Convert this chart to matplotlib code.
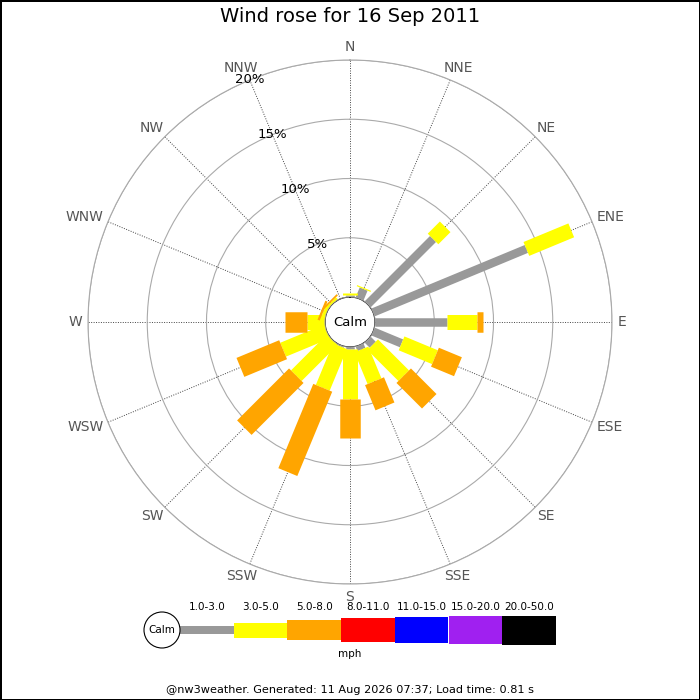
#!/usr/bin/env python3
import numpy as np
import matplotlib
matplotlib.use('Agg')
import matplotlib.pyplot as plt
from matplotlib.patches import Circle
from matplotlib.transforms import Affine2D

# wind rose data, % of time per direction and speed bin
directions = ['N', 'NNE', 'NE', 'ENE', 'E', 'ESE', 'SE', 'SSE',
              'S', 'SSW', 'SW', 'WSW', 'W', 'WNW', 'NW', 'NNW']
speed_bins = ['1.0-3.0', '3.0-5.0', '5.0-8.0', '8.0-11.0',
              '11.0-15.0', '15.0-20.0', '20.0-50.0']
bin_colors = ['#999999', '#ffff00', '#ffa500', '#ff0000',
              '#0000ff', '#a020f0', '#000000']
pct_1_3 = [0.2, 0.9, 7.8, 14.0, 6.1, 2.6, 0.6, 0.4,
           0.15, 0.1, 0.0, 0.0, 0.0, 0.0, 0.0, 0.0]
pct_3_5 = [0.1, 0.1, 1.45, 4.1, 2.5, 3.05, 3.7, 2.9,
           4.2, 3.8, 4.3, 4.0, 1.5, 0.3, 0.2, 0.0]
pct_5_8 = [0.0, 0.0, 0.0, 0.0, 0.5, 2.1, 3.05, 2.3,
           3.3, 7.7, 6.2, 3.9, 1.9, 0.2, 0.15, 0.0]
ring_ticks = [5, 10, 15, 20]
title = 'Wind rose for 16 Sep 2011'
footer = '@nw3weather. Generated: 11 Aug 2026 07:37; Load time: 0.81 s'

bar_px = [8.5, 15, 20.5, 24, 26, 28, 29]   # bar thickness per speed bin (px)
PT = 0.72                                   # px -> points at dpi 100


def main():
    fig = plt.figure(figsize=(7, 7), dpi=100, facecolor='white',
                     edgecolor='black', linewidth=2)

    # rose: centre (350,322), outer ring radius 262px, calm radius 25px
    ax = fig.add_axes([88/700, 116/700, 524/700, 524/700], projection='polar')
    ax.set_theta_zero_location('N')
    ax.set_theta_direction(-1)
    rmax = ring_ticks[-1]
    ax.set_ylim(0, rmax)
    ax.set_rorigin(-rmax * 25 / 237)

    theta = np.radians(np.arange(len(directions)) * 22.5)
    ax.set_xticks(theta)
    ax.set_xticklabels([])
    ax.set_yticks(ring_ticks)
    ax.set_yticklabels([])
    ax.tick_params(length=0)
    ax.xaxis.grid(True, color='#444444', linestyle=(0, (1, 1.5)), linewidth=0.7)
    ax.yaxis.grid(True, color='#aaaaaa', linestyle='-', linewidth=0.8)
    ax.spines['polar'].set_color('#aaaaaa')
    ax.spines['polar'].set_linewidth(0.8)
    ax.set_axisbelow(True)

    series = [pct_1_3, pct_3_5, pct_5_8]
    bottom = np.zeros(len(directions))
    for k, vals in enumerate(series):
        vals = np.array(vals)
        for t, b, v in zip(theta, bottom, vals):
            if v > 0:
                ax.plot([t, t], [b, b + v], color=bin_colors[k],
                        linewidth=bar_px[k] * PT, solid_capstyle='butt',
                        zorder=3 + k)
        bottom = bottom + vals

    # calm circle
    ax.add_patch(Circle((0.5, 0.5), 25/524, transform=ax.transAxes,
                        facecolor='white', edgecolor='#aaaaaa', linewidth=0.8,
                        zorder=20))
    ax.text(0.5, 0.5, 'Calm', transform=ax.transAxes, ha='center',
            va='center', fontsize=9.5, zorder=21)

    # direction labels: anchored at a fixed radius, pushed out by half their box
    renderer = fig.canvas.get_renderer()
    r_lab = (268 - 25) / 237 * rmax
    for t, d in zip(theta, directions):
        txt = ax.text(t, r_lab, d, ha='center', va='center', fontsize=10,
                      color='#555555', clip_on=False)
        bb = txt.get_window_extent(renderer)
        dx = bb.width / 2 * np.sin(t)
        dy = bb.height / 2 * np.cos(t)
        txt.set_transform(ax.transData + Affine2D().translate(dx, dy))

    for r in ring_ticks:
        ax.text(np.radians(337.5), r, '%d%%' % r, ha='center', va='center',
                fontsize=9.5, color='black', zorder=10)

    fig.text(0.5, 1 - 17/700, title, ha='center', va='center', fontsize=14)

    # legend strip, in pixel units
    lg = fig.add_axes([140/700, 40/700, 420/700, 60/700])
    lg.set_xlim(140, 560)
    lg.set_ylim(660, 600)
    lg.axis('off')
    seg_w = 53.7
    x0 = 180
    lefts = x0 + np.arange(len(speed_bins)) * seg_w
    lg.bar(lefts, bar_px, bottom=630 - np.array(bar_px) / 2, width=seg_w,
           align='edge', color=bin_colors, linewidth=0)
    for x, lab in zip(lefts, speed_bins):
        lg.text(x + seg_w / 2, 607, lab, ha='center', va='center', fontsize=7.5)
    lg.add_patch(Circle((x0 - 18, 630), 18, facecolor='white',
                        edgecolor='black', linewidth=0.8, zorder=5))
    lg.text(x0 - 18, 630, 'Calm', ha='center', va='center', fontsize=7.5,
            zorder=6)
    lg.text(350, 654, 'mph', ha='center', va='center', fontsize=7.5)

    fig.text(0.5, 1 - 690/700, footer, ha='center', va='center', fontsize=8.1)

    fig.savefig('out.png', dpi=100)


if __name__ == "__main__":
    main()
